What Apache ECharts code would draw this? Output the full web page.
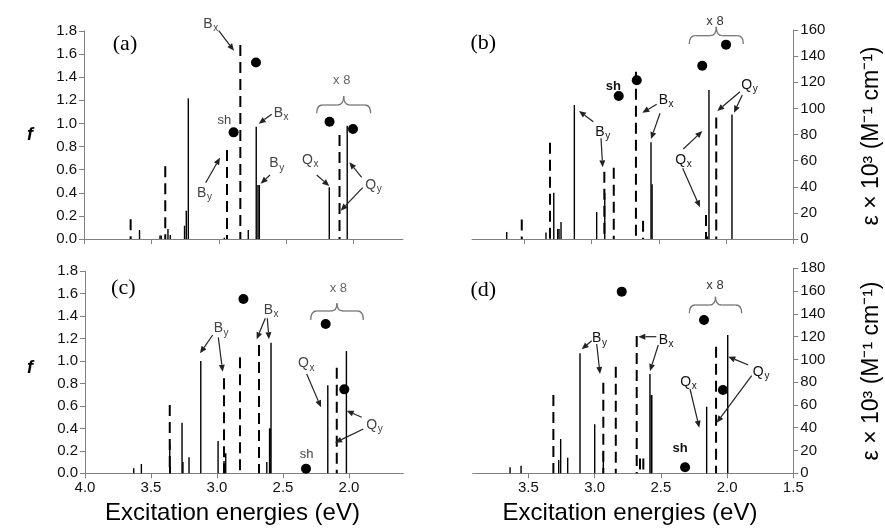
<!DOCTYPE html>
<html><head><meta charset="utf-8">
<script src="https://cdn.jsdelivr.net/npm/echarts@6/dist/echarts.min.js"></script>
<style>html,body{margin:0;padding:0;background:#fff}#c{width:885px;height:532px}</style>
</head><body><div id="c"></div>
<script>
// ---------- DATA (energy eV, value) ----------
// (a) oscillator strength f
const aSolid = [[3.588,0.078],[3.436,0.03],[3.427,0.03],[3.377,0.087],[3.36,0.035],[3.254,0.115],[3.241,0.245],[3.226,1.217],[2.959,0.01],[2.781,0.078],[2.722,0.972],[2.709,0.467],[2.699,0.467],[2.18,0.447],[2.047,0.98]];
const aDashed = [[3.654,0.17],[3.397,0.63],[2.939,0.77],[2.84,1.678],[2.104,0.9]];
const aExp = [[2.89,0.923],[2.724,1.528],[2.178,1.015],[2.004,0.952]];
// (b) epsilon x 10^3
const bSolid = [[3.631,5.4],[3.339,5],[3.281,35.5],[3.252,7.7],[3.242,7.7],[3.227,13],[3.128,102.6],[2.962,20.7],[2.902,35.5],[2.558,74],[2.55,42],[2.139,2],[2.127,114],[1.956,95.4]];
const bDashed = [[3.519,15],[3.309,73.7],[2.905,51.5],[2.835,54.6],[2.67,128],[2.617,14],[2.149,18.4],[2.073,93]];
const bExp = [[2.798,109.5],[2.664,121.5],[2.177,132.7],[2.0,148.8]];
// (c) oscillator strength f
const cSolid = [[3.631,0.045],[3.573,0.083],[3.358,0.252],[3.354,0.06],[3.265,0.451],[3.258,0.10],[3.212,0.142],[3.123,1.0],[2.992,0.288],[2.947,0.11],[2.934,0.178],[2.623,0.10],[2.602,0.40],[2.598,0.40],[2.591,1.164],[2.161,0.784],[2.02,1.09]];
const cDashed = [[3.358,0.609],[2.947,0.846],[2.826,1.034],[2.682,1.143],[2.093,0.941]];
const cExp = [[2.80,1.553],[2.326,0.041],[2.177,1.331],[2.036,0.748]];
// (d) epsilon x 10^3
const dSolid = [[3.638,5.3],[3.555,6.7],[3.271,11.7],[3.256,30.1],[3.203,13.7],[3.11,105.4],[2.999,43],[2.934,18.4],[2.582,87.2],[2.572,68.8],[2.568,68.8],[2.154,58.5],[1.995,121.4]];
const dDashed = [[3.311,68.8],[2.934,79.6],[2.84,93.6],[2.682,120.5],[2.657,13],[2.632,13],[2.083,111.2]];
const dExp = [[2.795,159.5],[2.317,5.3],[2.174,134.6],[2.031,73.1]];
// tick labels
const xTicksLeft = [4.0,3.5,3.0,2.5,2.0];
const xTicksRight = [3.5,3.0,2.5,2.0,1.5];

// ---------- helpers ----------
const AX = '#808080';
const SANS = '"Liberation Sans", Arial, sans-serif';
function sticks(i, data, dashed) {
  return {
    type: 'custom', xAxisIndex: i, yAxisIndex: i, data: data, encode: {x: 0, y: 1}, z: 3,
    renderItem: function (params, api) {
      const t = api.coord([api.value(0), api.value(1)]);
      const b = api.coord([api.value(0), 0]);
      return {type: 'line', shape: {x1: t[0], y1: t[1], x2: b[0], y2: b[1]},
        style: {stroke: '#000', lineWidth: dashed ? 2 : 1.4, lineDash: dashed ? [11, 6] : null}};
    }
  };
}
function dots(i, data) {
  return {type: 'scatter', xAxisIndex: i, yAxisIndex: i, data: data, symbolSize: 10,
    itemStyle: {color: '#000', opacity: 1}, z: 4};
}
function xAx(i, min, max, ticks, showLabels) {
  return {type: 'value', gridIndex: i, min: min, max: max, inverse: true,
    axisLine: {show: true, lineStyle: {color: AX, width: 1}},
    axisTick: {show: true, length: 5, lineStyle: {color: AX}, customValues: ticks},
    axisLabel: {show: showLabels, customValues: ticks, margin: 7, color: '#111', fontSize: 15, fontFamily: SANS,
      formatter: v => v.toFixed(1)},
    splitLine: {show: false}};
}
function yAx(i, max, interval, pos, dec) {
  return {type: 'value', gridIndex: i, min: 0, max: max, interval: interval, position: pos,
    axisLine: {show: true, lineStyle: {color: AX, width: 1}},
    axisTick: {show: true, length: 5, lineStyle: {color: AX}},
    axisLabel: {margin: 7, color: '#111', fontSize: 15, fontFamily: SANS,
      formatter: v => dec ? v.toFixed(1) : String(v)},
    splitLine: {show: false}};
}
const G = [];
function txt(x, y, s, font, fill, align) {
  G.push({type: 'text', x: x, y: y, z: 10, style: {text: s, font: font, fill: fill, align: align || 'center', verticalAlign: 'middle'}});
}
function lab(x, y, main, sub, fill) {
  const half = main === 'Q' ? 5.8 : 5.0;
  txt(x, y, main, '14px ' + SANS, fill, 'center');
  txt(x + half + 0.3, y + 4.5, sub, '10px ' + SANS, fill, 'left');
}
function arrow(x1, y1, x2, y2, color) {
  const a = Math.atan2(y2 - y1, x2 - x1), L = 7, W = 3;
  const bx = x2 - L * Math.cos(a), by = y2 - L * Math.sin(a);
  const px = -Math.sin(a) * W, py = Math.cos(a) * W;
  G.push({type: 'line', z: 10, shape: {x1: x1, y1: y1, x2: bx, y2: by}, style: {stroke: color, lineWidth: 1.2}});
  G.push({type: 'polygon', z: 10, shape: {points: [[x2, y2], [bx + px, by + py], [bx - px, by - py]]}, style: {fill: color}});
}
function qc(x1, y1, cx, cy, x2, y2, color) {
  G.push({type: 'bezierCurve', z: 10, shape: {x1: x1, y1: y1, x2: x2, y2: y2, cpx1: cx, cpy1: cy}, style: {stroke: color, fill: null, lineWidth: 1.3}});
}
function seg(x1, y1, x2, y2, color) {
  G.push({type: 'line', z: 10, shape: {x1: x1, y1: y1, x2: x2, y2: y2}, style: {stroke: color, lineWidth: 1.3}});
}
function brace(x0, x1, yEnd, yMid, yTip, color) {
  const xm = (x0 + x1) / 2, r = 6;
  qc(x0, yEnd, x0, yMid, x0 + r, yMid, color);
  seg(x0 + r, yMid, xm - r, yMid, color);
  qc(xm - r, yMid, xm, yMid, xm, yTip, color);
  qc(xm, yTip, xm, yMid, xm + r, yMid, color);
  seg(xm + r, yMid, x1 - r, yMid, color);
  qc(x1 - r, yMid, x1, yMid, x1, yEnd, color);
}

// ---------- annotations ----------
const gA = '#444', gB = '#111', AR = '#222';
const SERIF = '"Liberation Serif", "Times New Roman", serif';
// (a)
txt(125, 44, '(a)', '22px ' + SERIF, '#000');
lab(208, 24, 'B', 'x', gA); arrow(218.7, 30.7, 234, 50.7, AR);
txt(224.3, 120.7, 'sh', '13px ' + SANS, gA);
lab(201.7, 192.7, 'B', 'y', gA); arrow(205.7, 182.7, 220, 157.7, AR);
lab(278.3, 112.7, 'B', 'x', gA); arrow(271.7, 114.3, 258.7, 123.7, AR);
lab(274, 163.3, 'B', 'y', gA); arrow(270, 175, 260.7, 183.7, AR);
lab(307.5, 160, 'Q', 'x', gA); arrow(316.7, 175, 329.3, 186, AR);
lab(370.7, 185, 'Q', 'y', gA); arrow(361.7, 177.3, 349.3, 162.3, AR); arrow(362.7, 187.7, 340.7, 210.7, AR);
txt(341.7, 80, 'x 8', '13px ' + SANS, '#666');
brace(316.7, 370.7, 113.3, 105, 96, '#777');
// (b)
txt(483.3, 43.3, '(b)', '22px ' + SERIF, '#000');
txt(613.3, 86, 'sh', 'bold 13px ' + SANS, gB);
lab(600, 131.7, 'B', 'y', gB); arrow(593.3, 121.7, 579, 111, AR); arrow(601, 138.3, 602.7, 167.3, AR);
lab(663.3, 100, 'B', 'x', gB); arrow(656.7, 104.3, 642.3, 112.7, AR); arrow(660, 113.3, 651, 139, AR);
lab(680.7, 160, 'Q', 'x', gB); arrow(683.3, 149, 702.3, 131, AR); arrow(682.7, 168.3, 700, 207.3, AR);
lab(746.7, 85, 'Q', 'y', gB); arrow(740, 91.7, 717.3, 111, AR); arrow(742.3, 95, 734, 112.7, AR);
txt(715, 21.7, 'x 8', '13px ' + SANS, '#333');
brace(689.3, 743.3, 44, 35.7, 26.7, '#777');
// (c)
txt(123.3, 288.3, '(c)', '22px ' + SERIF, '#000');
lab(218.3, 328.3, 'B', 'y', gA); arrow(212.7, 335, 200, 353.3, AR); arrow(218.3, 337.3, 222.7, 371.7, AR);
lab(268.3, 310, 'B', 'x', gA); arrow(265.3, 318.3, 256.7, 339.3, AR); arrow(267.3, 318.3, 269, 339.3, AR);
lab(303.5, 363.3, 'Q', 'x', gA); arrow(306.7, 374, 321, 407.3, AR);
lab(371.7, 425, 'Q', 'y', gA); arrow(361.7, 417.3, 346.7, 410.7, AR); arrow(363.3, 429, 335, 442.7, AR);
txt(306.7, 454, 'sh', '13px ' + SANS, gA);
txt(338.3, 288.3, 'x 8', '13px ' + SANS, '#666');
brace(310.7, 363.3, 320, 311, 303.3, '#777');
// (d)
txt(483.3, 290, '(d)', '22px ' + SERIF, '#000');
lab(596.7, 338.3, 'B', 'y', gB); arrow(591.7, 340.7, 581.7, 349.3, AR); arrow(596.7, 344, 600, 374, AR);
lab(663.3, 340, 'B', 'x', gB); arrow(656.3, 336.7, 638.3, 336.7, AR); arrow(658.3, 345, 650, 371, AR);
lab(685.7, 381.7, 'Q', 'x', gB); arrow(690, 389, 699.3, 427.7, AR);
lab(758.3, 371.7, 'Q', 'y', gB); arrow(748.3, 365, 728.3, 356.7, AR); arrow(751.7, 375.7, 716.7, 422.7, AR);
txt(680, 448.3, 'sh', 'bold 13px ' + SANS, gB);
txt(715, 285, 'x 8', '13px ' + SANS, '#333');
brace(689.3, 741.7, 313.3, 305, 296.7, '#777');
// axis titles
txt(30, 135, 'f', 'italic bold 18px ' + SANS, '#000');
txt(30, 368, 'f', 'italic bold 18px ' + SANS, '#000');
txt(232.5, 513.3, 'Excitation energies (eV)', '24px ' + SANS, '#000');
txt(630, 513.3, 'Excitation energies (eV)', '24px ' + SANS, '#000');
G.push({type: 'text', x: 872, y: 136, rotation: Math.PI / 2, z: 10, style: {text: 'ε × 10³ (M⁻¹ cm⁻¹)', font: '23px ' + SANS, fill: '#000', align: 'center', verticalAlign: 'middle'}});
G.push({type: 'text', x: 872, y: 371, rotation: Math.PI / 2, z: 10, style: {text: 'ε × 10³ (M⁻¹ cm⁻¹)', font: '23px ' + SANS, fill: '#000', align: 'center', verticalAlign: 'middle'}});

const chart = echarts.init(document.getElementById('c'), null, {renderer: 'canvas'});
chart.setOption({
  animation: false,
  backgroundColor: '#fff',
  grid: [
    {left: 84, top: 31, width: 319, height: 208},
    {left: 472, top: 30, width: 321.3, height: 209},
    {left: 85, top: 271.3, width: 318.3, height: 202},
    {left: 472.7, top: 268.3, width: 320.6, height: 205}
  ],
  xAxis: [
    xAx(0, 1.633, 4.0, xTicksLeft, false),
    xAx(1, 1.5, 3.889, xTicksRight, false),
    xAx(2, 1.589, 4.0, xTicksLeft, true),
    xAx(3, 1.5, 3.92, xTicksRight, true)
  ],
  yAxis: [
    yAx(0, 1.8, 0.2, 'left', true),
    yAx(1, 160, 20, 'right', false),
    yAx(2, 1.8, 0.2, 'left', true),
    yAx(3, 180, 20, 'right', false)
  ],
  series: [
    sticks(0, aSolid, false), sticks(0, aDashed, true), dots(0, aExp),
    sticks(1, bSolid, false), sticks(1, bDashed, true), dots(1, bExp),
    sticks(2, cSolid, false), sticks(2, cDashed, true), dots(2, cExp),
    sticks(3, dSolid, false), sticks(3, dDashed, true), dots(3, dExp)
  ],
  graphic: {elements: G}
});
</script></body></html>
